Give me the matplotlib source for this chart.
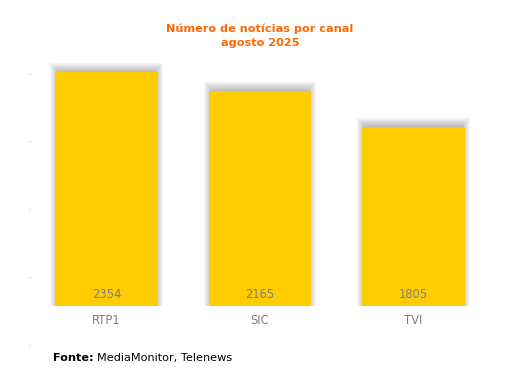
import matplotlib
matplotlib.use("Agg")
import matplotlib.pyplot as plt
import numpy as np

categories = ["RTP1", "SIC", "TVI"]
values = [2354, 2165, 1805]
title_lines = ["Número de notícias por canal", "agosto 2025"]
source_bold = "Fonte:"
source_text = "MediaMonitor, Telenews"

W, H = 512, 376
fig = plt.figure(figsize=(W / 100, H / 100), dpi=100)
fig.patch.set_facecolor("white")

s = 0.0994  # px per unit
base_px = 306
top_px, bot_px = 60, 350
left_px, right_px = 29.75, 490.25
ax = fig.add_axes([left_px / W, (H - bot_px) / H, (right_px - left_px) / W, (bot_px - top_px) / H])
ax.set_xlim(-0.5, 2.5)
ax.set_ylim((base_px - bot_px) / s, (base_px - top_px) / s)

x = np.arange(len(categories))
width = 0.67
px_x = 153.5  # px per x unit
# soft shadow (offset upward, blurred)
for k in range(-3, 6):
    ax.bar(x, [v + (4 + k) / s for v in values], width=width + 2 * k / px_x,
           bottom=0, color="#303030", alpha=0.04, linewidth=0, zorder=1)
ax.bar(x, values, width=width, color="#FFCC00", linewidth=0, zorder=3)

fs = 8.3
for xi, v in zip(x, values):
    ax.text(xi, 12 / s, f"{v}", ha="center", va="center", fontsize=fs, color="#7F7F7F", zorder=4)

ax.set_xticks(x)
ax.set_xticklabels([])
ax.tick_params(axis="x", length=0)
for spine in ax.spines.values():
    spine.set_visible(False)

yt = [(base_px - p) / s for p in [74, 141, 209, 277, 345]]
ax.set_yticks(yt)
ax.set_yticklabels([])
ax.tick_params(axis="y", length=1.5, width=0.6, color="#D0D0D0")

for xi, c in zip(x, categories):
    ax.text(xi, (base_px - 320) / s, c, ha="center", va="center", fontsize=fs, color="#7F7F7F")

fig.text(260 / W, 1 - 29 / H, title_lines[0], ha="center", va="center", fontsize=8.1,
         fontweight="bold", color="#FF6600")
fig.text(260 / W, 1 - 43 / H, title_lines[1], ha="center", va="center", fontsize=8.1,
         fontweight="bold", color="#FF6600")

t = fig.text(53 / W, 1 - 358 / H, source_bold + " ", ha="left", va="center", fontsize=8.1,
             fontweight="bold", color="#000000")
fig.canvas.draw()
bb = t.get_window_extent()
fig.text(bb.x1 / W, 1 - 358 / H, source_text, ha="left", va="center", fontsize=8.1, color="#000000")

fig.savefig("out.png", dpi=100, facecolor="white")
